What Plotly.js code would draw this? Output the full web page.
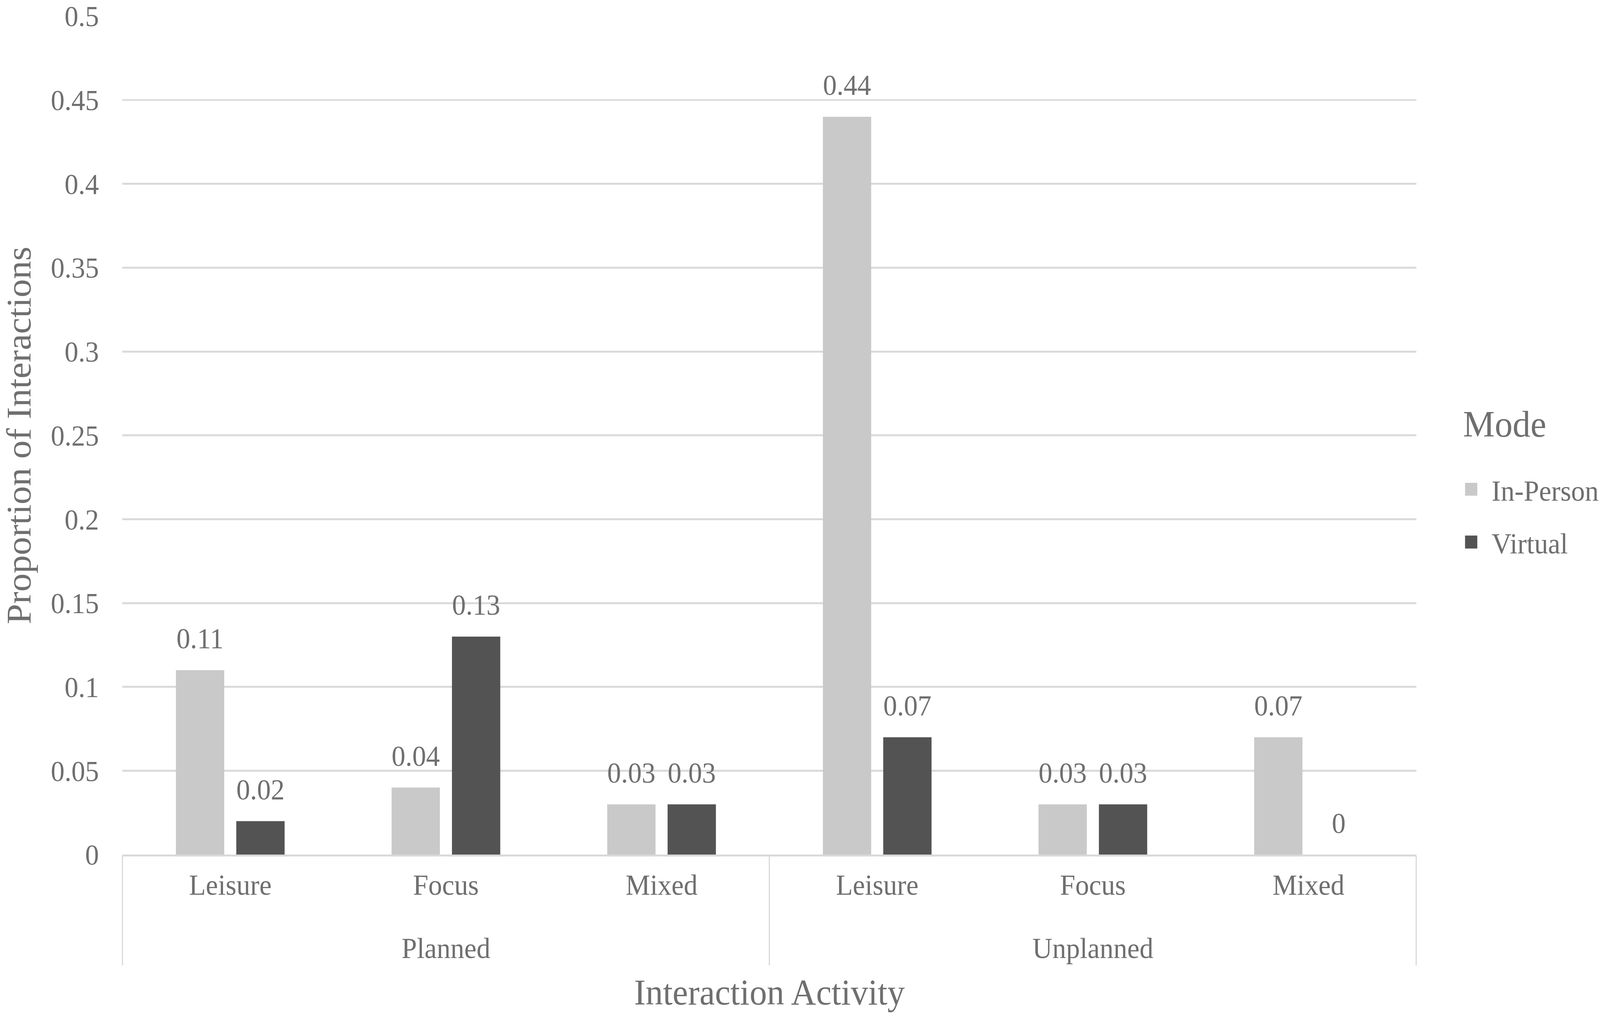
<!DOCTYPE html>
<html>
<head>
<meta charset="utf-8">
<script src="https://cdn.plot.ly/plotly-3.0.1.min.js"></script>
<style>
  html, body { margin: 0; padding: 0; background: #ffffff; overflow: hidden; }
  #chart { width: 1568px; height: 946px; transform-origin: 0 0; position: absolute; left: 0; top: 0; }
</style>
</head>
<body>
<div id="chart"></div>
<script>
// ---- data ----
const groups = ['Planned', 'Planned', 'Planned', 'Unplanned', 'Unplanned', 'Unplanned'];
const activities = ['Leisure', 'Focus', 'Mixed', 'Leisure', 'Focus', 'Mixed'];
const inPerson = [0.11, 0.04, 0.03, 0.44, 0.03, 0.07];
const virtualMode = [0.02, 0.13, 0.03, 0.07, 0.03, 0];
const seriesNames = ['In-Person', 'Virtual'];
const yTicks = [0, 0.05, 0.1, 0.15, 0.2, 0.25, 0.3, 0.35, 0.4, 0.45, 0.5];

// ---- fit the drawing to the window ----
const W = 1568, H = 946;
const vw = window.innerWidth || document.documentElement.clientWidth || 4317;
const vh = window.innerHeight || document.documentElement.clientHeight || 2604;
document.getElementById('chart').style.transform = 'scale(' + (vw / W) + ',' + (vh / H) + ')';

// ---- styles ----
const FONT = 'Liberation Serif, Times New Roman, serif';
const TXT = '#6f6f6f';
const COLORS = ['#c9c9c9', '#535353'];
// second (empty, tiny) line under level-1 labels to push the group labels lower
const catLabels = activities.map(a => a + "<br><span style='font-size:3px'> </span>");
const x = [groups, catLabels];

const traces = [];
[inPerson, virtualMode].forEach((vals, i) => {
  traces.push({
    type: 'bar', x: x, y: vals, name: seriesNames[i],
    marker: {color: COLORS[i]}, legendgroup: 'g' + i,
    hoverinfo: 'skip'
  });
});
[inPerson, virtualMode].forEach((vals, i) => {
  traces.push({
    type: 'scatter', mode: 'markers+text', x: x, y: vals,
    text: vals.map(v => String(v)), textposition: 'top center',
    textfont: {family: FONT, size: 27, color: TXT},
    marker: {size: 20, opacity: 0, color: COLORS[i]},
    showlegend: false, hoverinfo: 'skip', cliponaxis: false
  });
});

const layout = {
  width: W, height: H,
  paper_bgcolor: '#ffffff', plot_bgcolor: '#ffffff',
  font: {family: FONT, size: 27, color: TXT},
  margin: {l: 120, r: 180, t: 15, b: 151, autoexpand: false},
  barmode: 'group', bargap: 0.44, bargroupgap: 0.2,
  scattermode: 'group', scattergap: 0.44,
  showlegend: true,
  legend: {
    x: 1.0345, y: 0.5306, xanchor: 'left', yanchor: 'top',
    traceorder: 'grouped', tracegroupgap: 11, indentation: -10,
    font: {family: FONT, size: 27, color: TXT},
    title: {text: "<span style='font-size:35px'>Mode</span><br> ", font: {family: FONT, size: 19.2, color: TXT}, side: 'top'},
    bgcolor: 'rgba(0,0,0,0)'
  },
  xaxis: {
    type: 'multicategory',
    showline: true, linecolor: '#d9d9d9', linewidth: 1.8,
    showgrid: false, ticks: '',
    tickfont: {family: FONT, size: 27, color: TXT},
    ticklabelstandoff: 3,
    showdividers: true, dividercolor: '#d9d9d9', dividerwidth: 1.2,
    title: {text: 'Interaction Activity', font: {family: FONT, size: 34, color: TXT}, standoff: 14},
    automargin: false
  },
  yaxis: {
    range: [0, 0.5], tickvals: yTicks, ticktext: yTicks.map(v => String(v)),
    showgrid: true, gridcolor: '#dadada', gridwidth: 1.8,
    zeroline: false, showline: false, ticks: '',
    tickfont: {family: FONT, size: 27, color: TXT},
    ticklabelstandoff: 22,
    title: {text: 'Proportion of Interactions', font: {family: FONT, size: 34, color: TXT}, standoff: 10},
    automargin: false
  }
};

Plotly.newPlot('chart', traces, layout, {displayModeBar: false, staticPlot: true});
</script>
</body>
</html>
